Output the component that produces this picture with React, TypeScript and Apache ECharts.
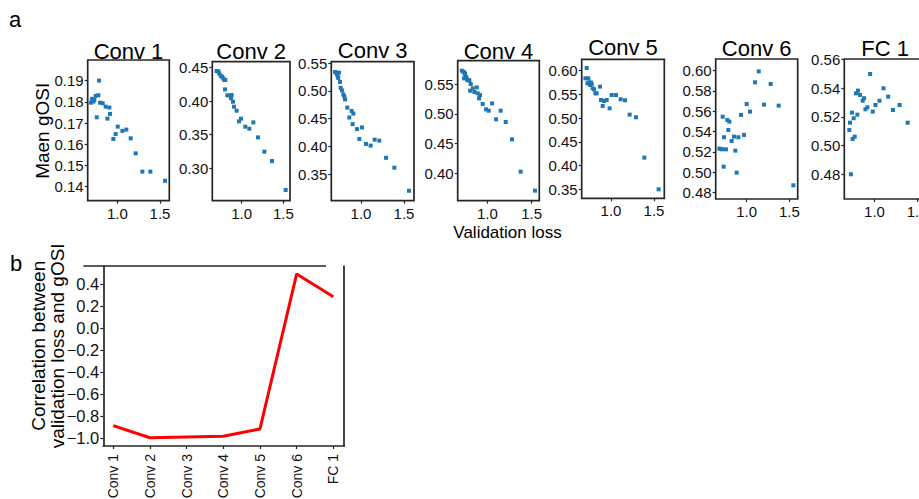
import { useEffect, useRef } from "react";
import * as echarts from "echarts";

// ---- data -------------------------------------------------------------
const layers = ["Conv 1", "Conv 2", "Conv 3", "Conv 4", "Conv 5", "Conv 6", "FC 1"];

// [validation loss, mean gOSI] per model, one list per layer
const conv1Points = [
  [0.785, 0.19], [0.703, 0.1814], [0.746, 0.1828], [0.777, 0.1831], [0.719, 0.1801],
  [0.691, 0.1796], [0.73, 0.1809], [0.797, 0.1796], [0.828, 0.1793], [0.863, 0.1777],
  [0.906, 0.1773], [0.758, 0.1727], [0.883, 0.1721], [0.914, 0.1743], [1.004, 0.1683],
  [0.953, 0.1625], [0.98, 0.1648], [1.059, 0.1663], [1.105, 0.1669], [1.156, 0.1628],
  [1.215, 0.1557], [1.293, 0.1471], [1.387, 0.1471], [1.559, 0.1428],
];
const conv2Points = [
  [0.7, 0.4446], [0.72, 0.4441], [0.732, 0.4411], [0.748, 0.4376], [0.764, 0.4361],
  [0.78, 0.4337], [0.792, 0.4312], [0.804, 0.4312], [0.8, 0.4173], [0.828, 0.4084],
  [0.864, 0.4084], [0.872, 0.404], [0.88, 0.4089], [0.896, 0.399], [0.908, 0.3916],
  [0.94, 0.3856], [0.968, 0.3698], [0.992, 0.3738], [1.044, 0.3619], [1.092, 0.3589],
  [1.14, 0.3683], [1.196, 0.346], [1.272, 0.3248], [1.364, 0.3109], [1.528, 0.2678],
];
const conv3Points = [
  [0.698, 0.534], [0.717, 0.5304], [0.729, 0.5263], [0.744, 0.5328], [0.736, 0.5233],
  [0.756, 0.5162], [0.764, 0.5055], [0.779, 0.5007], [0.795, 0.4936], [0.806, 0.4901],
  [0.814, 0.4847], [0.841, 0.4699], [0.864, 0.4521], [0.891, 0.4639], [0.911, 0.4592],
  [0.903, 0.4402], [0.953, 0.4313], [1.012, 0.4343], [0.981, 0.4135], [1.058, 0.4046],
  [1.112, 0.4016], [1.159, 0.4123], [1.213, 0.4105], [1.291, 0.3797], [1.388, 0.3619],
  [1.558, 0.3203],
];
const conv4Points = [
  [0.711, 0.5724], [0.729, 0.5707], [0.741, 0.569], [0.748, 0.5668], [0.737, 0.5595],
  [0.756, 0.5623], [0.767, 0.5595], [0.774, 0.5567], [0.789, 0.5567], [0.797, 0.5556],
  [0.812, 0.55], [0.805, 0.5388], [0.835, 0.5427], [0.853, 0.5366], [0.88, 0.5444],
  [0.891, 0.5343], [0.906, 0.5259], [0.917, 0.5315], [0.947, 0.5164], [0.985, 0.5075],
  [1.015, 0.5052], [1.053, 0.5175], [1.098, 0.4907], [1.15, 0.5052], [1.207, 0.4862],
  [1.278, 0.4571], [1.376, 0.4028], [1.538, 0.3709],
];
const conv5Points = [
  [0.717, 0.6056], [0.702, 0.5838], [0.736, 0.5838], [0.725, 0.5733], [0.748, 0.5754],
  [0.756, 0.5698], [0.767, 0.5747], [0.775, 0.5719], [0.787, 0.5628], [0.802, 0.5607],
  [0.818, 0.5522], [0.833, 0.5522], [0.872, 0.5663], [0.884, 0.5382], [0.903, 0.5256],
  [0.919, 0.5361], [0.95, 0.5382], [0.984, 0.5206], [1.008, 0.5487], [1.058, 0.5487],
  [1.112, 0.5396], [1.163, 0.5375], [1.217, 0.5073], [1.291, 0.5017], [1.388, 0.4167],
  [1.554, 0.35],
];
const conv6Points = [
  [0.719, 0.5546], [0.68, 0.5231], [0.695, 0.5227], [0.711, 0.5224], [0.734, 0.5343],
  [0.73, 0.5053], [0.758, 0.5224], [0.773, 0.5513], [0.785, 0.5415], [0.797, 0.5497],
  [0.824, 0.5306], [0.852, 0.5349], [0.867, 0.5211], [0.883, 0.4994], [0.902, 0.5343],
  [0.934, 0.5563], [0.969, 0.5366], [1.0, 0.5671], [1.039, 0.5596], [1.098, 0.5885],
  [1.141, 0.5993], [1.203, 0.5665], [1.281, 0.5869], [1.375, 0.5655], [1.547, 0.4869],
];
const fc1Points = [
  [0.705, 0.5108], [0.713, 0.5159], [0.724, 0.48], [0.736, 0.5229], [0.744, 0.5046],
  [0.756, 0.519], [0.768, 0.5062], [0.783, 0.5363], [0.799, 0.5215], [0.807, 0.5382],
  [0.831, 0.5352], [0.862, 0.5312], [0.878, 0.5329], [0.894, 0.5252], [0.917, 0.5266],
  [0.949, 0.5498], [0.98, 0.5236], [1.012, 0.5282], [1.059, 0.5312], [1.106, 0.5398],
  [1.161, 0.534], [1.217, 0.5247], [1.295, 0.5282], [1.39, 0.5159],
];

// correlation between validation loss and gOSI, per layer
const correlations = [-0.885, -0.995, -0.988, -0.982, -0.915, 0.494, 0.287];

// tick labels
const lossTicks = [1.0, 1.5];
const conv1Ticks = [0.14, 0.15, 0.16, 0.17, 0.18, 0.19];
const conv2Ticks = [0.3, 0.35, 0.4, 0.45];
const conv3Ticks = [0.35, 0.4, 0.45, 0.5, 0.55];
const conv4Ticks = [0.4, 0.45, 0.5, 0.55];
const conv5Ticks = [0.35, 0.4, 0.45, 0.5, 0.55, 0.6];
const conv6Ticks = [0.48, 0.5, 0.52, 0.54, 0.56, 0.58, 0.6];
const fc1Ticks = [0.48, 0.5, 0.52, 0.54, 0.56];
const corrTicks = [-1.0, -0.8, -0.6, -0.4, -0.2, 0.0, 0.2, 0.4];

// ---- layout -----------------------------------------------------------
const FONT = "Liberation Sans, Arial, Helvetica, sans-serif";
const INK = "#262626";
const DOT = "#1f77b4";

const panelData = [conv1Points, conv2Points, conv3Points, conv4Points, conv5Points, conv6Points, fc1Points];
const panelTicks = [conv1Ticks, conv2Ticks, conv3Ticks, conv4Ticks, conv5Ticks, conv6Ticks, fc1Ticks];

// box edges in px and axis extents for each small scatter panel
const panelLayout = [
  { l: 87.7, t: 60, r: 169.3, b: 200.7, x: [0.652, 1.609], y: [0.1334, 0.1997], base: 59.3 },
  { l: 212.3, t: 61.7, r: 290, b: 200.7, x: [0.648, 1.58], y: [0.252, 0.4584], base: 59.3 },
  { l: 331.3, t: 61.7, r: 414, b: 200.7, x: [0.655, 1.616], y: [0.3025, 0.5525], base: 58.3 },
  { l: 457.7, t: 60.7, r: 539.3, b: 200.7, x: [0.665, 1.586], y: [0.354, 0.5892], base: 59.3 },
  { l: 581.7, t: 59.3, r: 664.3, b: 198.3, x: [0.659, 1.62], y: [0.331, 0.6239], base: 55 },
  { l: 715.7, t: 59, r: 797.7, b: 199, x: [0.637, 1.598], y: [0.4734, 0.6115], base: 56 },
  { l: 844.3, t: 59, r: 926, b: 199, x: [0.646, 1.605], y: [0.4628, 0.5602], base: 56 },
];

const corrBox = { l: 103.3, t: 266, r: 344, b: 446 };

const fmtMinus = (v: number, d: number) => v.toFixed(d).replace("-", "\u2212");

function labelStyle(size: number) {
  return { color: "#111", fontSize: size, fontFamily: FONT, fontWeight: "normal" as const };
}

function buildOption() {
  const grid: any[] = [];
  const xAxis: any[] = [];
  const yAxis: any[] = [];
  const series: any[] = [];
  const graphic: any[] = [];

  const tickStyle = { color: INK, width: 1.2 };

  panelLayout.forEach((p, i) => {
    grid.push({
      left: p.l, top: p.t, width: p.r - p.l, height: p.b - p.t,
      show: true, borderColor: INK, borderWidth: 1.7, backgroundColor: "transparent",
      containLabel: false, outerBoundsMode: "none",
    });
    xAxis.push({
      type: "value", gridIndex: i, min: p.x[0], max: p.x[1],
      axisLine: { show: false, onZero: false },
      splitLine: { show: false },
      axisTick: { show: true, length: 3, customValues: lossTicks, lineStyle: tickStyle },
      axisLabel: { ...labelStyle(15), margin: 5, customValues: lossTicks, formatter: (v: number) => v.toFixed(1) },
    });
    yAxis.push({
      type: "value", gridIndex: i, min: p.y[0], max: p.y[1],
      axisLine: { show: false, onZero: false },
      splitLine: { show: false },
      axisTick: { show: true, length: 3, customValues: panelTicks[i], lineStyle: tickStyle },
      axisLabel: { ...labelStyle(15), margin: 4, customValues: panelTicks[i], formatter: (v: number) => v.toFixed(2) },
    });
    series.push({
      type: "scatter", xAxisIndex: i, yAxisIndex: i,
      data: panelData[i], symbol: "rect", symbolSize: 4,
      itemStyle: { color: DOT, opacity: 1 },
    });
    graphic.push({
      type: "text", x: (p.l + p.r) / 2, y: p.base - 7.9,
      style: { text: layers[i], fill: "#000", fontSize: 22, fontFamily: FONT, align: "center", verticalAlign: "middle" },
    });
  });

  // correlation panel
  const gi = panelLayout.length;
  const idx = layers.map((_, i) => i);
  const spine = { show: true, onZero: false, lineStyle: { color: INK, width: 1.7 } };
  grid.push({
    left: corrBox.l, top: corrBox.t, width: corrBox.r - corrBox.l, height: corrBox.b - corrBox.t,
    containLabel: false, outerBoundsMode: "none",
  });
  xAxis.push({
    type: "value", gridIndex: gi, min: -0.27, max: 6.29,
    axisLine: spine,
    splitLine: { show: false },
    axisTick: { show: true, length: 3, customValues: idx, lineStyle: tickStyle },
    axisLabel: {
      ...labelStyle(14), margin: 8, rotate: 90, customValues: idx,
      formatter: (v: number) => layers[Math.round(v)] ?? "",
    },
  });
  yAxis.push({
    type: "value", gridIndex: gi, min: -1.07, max: 0.566,
    axisLine: spine,
    splitLine: { show: false },
    axisTick: { show: true, length: 3, customValues: corrTicks, lineStyle: tickStyle },
    axisLabel: { ...labelStyle(16.5), margin: 4, customValues: corrTicks, formatter: (v: number) => fmtMinus(v, 1) },
  });
  yAxis.push({
    type: "value", gridIndex: gi, position: "right", min: -1.07, max: 0.566,
    axisLine: spine,
    splitLine: { show: false }, axisTick: { show: false }, axisLabel: { show: false },
  });
  series.push({
    type: "line", xAxisIndex: gi, yAxisIndex: gi,
    data: idx.map((i) => [i, correlations[i]]),
    symbol: "none", showSymbol: false,
    lineStyle: { color: "#ff0000", width: 3 },
  });

  // top rule of the correlation panel
  graphic.push({
    type: "line", shape: { x1: 83.3, y1: corrBox.t, x2: 326, y2: corrBox.t },
    style: { stroke: INK, lineWidth: 1.7 },
  });

  // panel letters and axis names
  const txt = (size: number) => ({ fill: "#000", fontSize: size, fontFamily: FONT, align: "center", verticalAlign: "middle" });
  graphic.push(
    { type: "text", x: 15, y: 19, style: { text: "a", ...txt(22) } },
    { type: "text", x: 16, y: 263, style: { text: "b", ...txt(22) } },
    { type: "text", x: 42.5, y: 130.8, rotation: Math.PI / 2, style: { text: "Maen gOSI", ...txt(19) } },
    { type: "text", x: 507.5, y: 232, style: { text: "Validation loss", ...txt(17) } },
    {
      type: "text", x: 47.5, y: 345.8, rotation: Math.PI / 2,
      style: { text: "Correlation between\nvalidation loss and gOSI", ...txt(19), lineHeight: 19 },
    },
  );

  return {
    animation: false,
    backgroundColor: "#ffffff",
    grid, xAxis, yAxis, series, graphic,
  };
}

export default function App() {
  const ref = useRef<HTMLDivElement>(null);
  useEffect(() => {
    if (!ref.current) return;
    const chart = echarts.init(ref.current, undefined, { renderer: "svg" });
    chart.setOption(buildOption() as any);
    return () => chart.dispose();
  }, []);
  return (
    <div
      ref={ref}
      style={{ position: "absolute", left: 0, top: 0, width: 919, height: 499, background: "#fff" }}
    />
  );
}
